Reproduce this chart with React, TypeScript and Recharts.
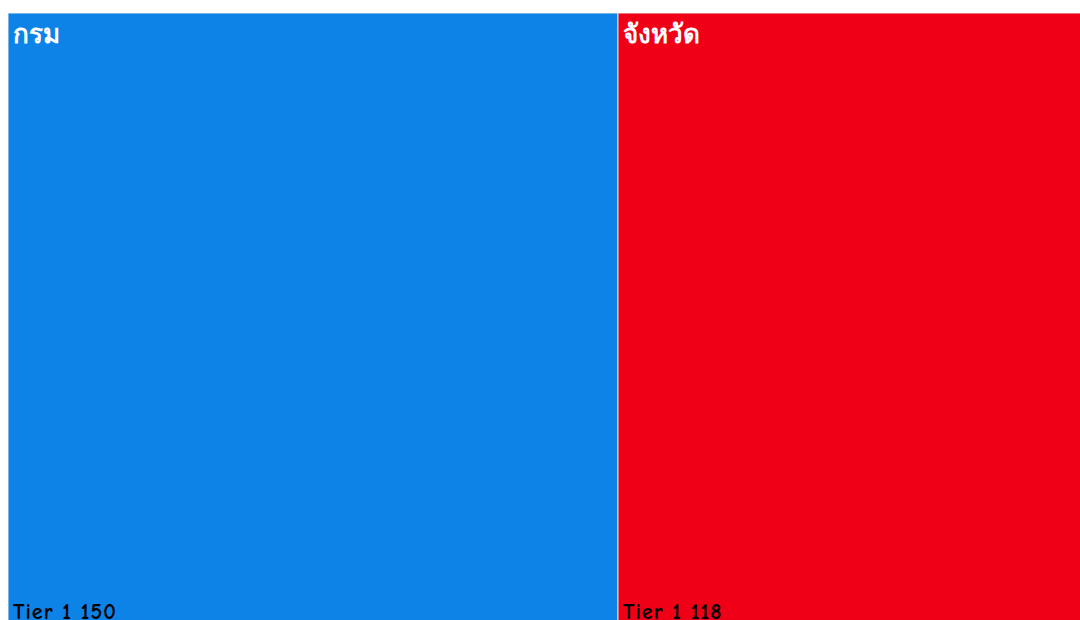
import React from 'react';
import { Treemap } from 'recharts';

const categories = ['กรม', 'จังหวัด'];
const values = [150, 118];
const tiers = ['Tier 1', 'Tier 1'];
const colors = ['#0d82e7', '#ef0016'];

const data = categories.map((name, i) => ({ name, value: values[i], tier: tiers[i], fill: colors[i] }));

const FONT = '"Comic Sans MS", "Comic Neue", "Noto Sans", "DejaVu Sans", sans-serif';

const Cell = (props: any) => {
  const { x, y, width, height, name, value, tier, fill, depth } = props;
  if (depth !== 1) return null;
  return (
    <g>
      <rect x={x} y={y} width={width} height={height} fill={fill} stroke="#e6e6e6" strokeWidth={1} />
      <text x={x + 5} y={y + 30} fill="#ffffff" fontSize={26} fontWeight="bold" fontFamily={FONT}>
        {name}
      </text>
      <text x={x + 5} y={y + height - 6} fill="#000000" fontSize={22} letterSpacing={1} fontWeight="bold" fontFamily={FONT}>
        {`${tier} ${value}`}
      </text>
    </g>
  );
};

export default function App() {
  return (
    <div style={{ position: 'fixed', left: 8, top: 13, width: 1090, height: 612 }}>
      <style>{`html { overflow: hidden; }`}</style>
      <Treemap
        width={1090}
        height={612}
        data={data}
        dataKey="value"
        nameKey="name"
        isAnimationActive={false}
        content={<Cell />}
      />
    </div>
  );
}
